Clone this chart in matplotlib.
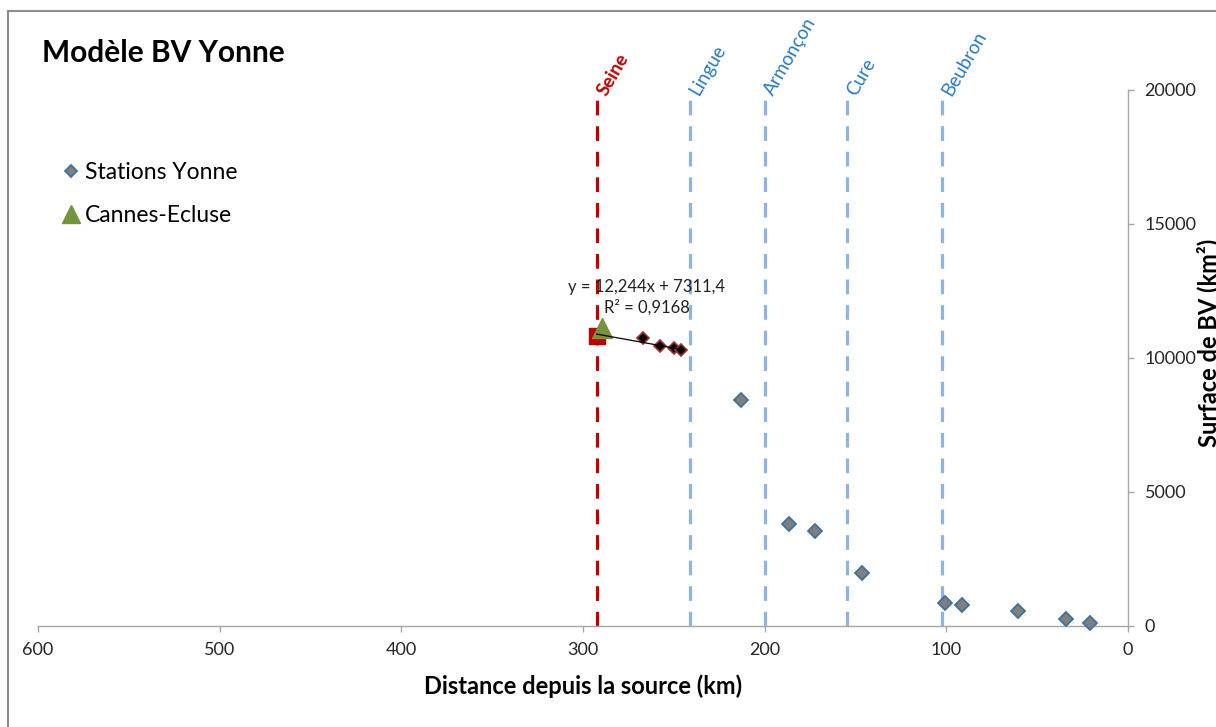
import matplotlib
matplotlib.use("Agg")
import matplotlib.pyplot as plt
from matplotlib.lines import Line2D
import numpy as np

plt.rcParams["font.family"] = ["Lato", "DejaVu Sans"]

###################
# Data            #
###################
# Stations Yonne (distance from source [km], basin area [km2])
stations_dist = [213.2, 186.4, 172.1, 146.6, 100.7, 91.5, 60.4, 34.3, 20.9]
stations_area = [8420, 3810, 3550, 1980, 845, 780, 558, 260, 122]

# Stations used for the linear trend (downstream reach)
trend_dist = [267.1, 257.6, 249.7, 246.0]
trend_area = [10735, 10459, 10384, 10287]

# Confluence with the Seine (red square) and Cannes-Ecluse (triangle)
seine_pt_dist = [292.4]
seine_pt_area = [10821]
cannes_dist = [289.7]
cannes_area = [11119]

# Trend line coefficients (as given by the label)
slope, intercept = 12.244, 7311.4
trend_label = ["y = 12,244x + 7311,4", "R² = 0,9168"]

# Tributaries / confluences
rivers = ["Seine", "Lingue", "Armonçon", "Cure", "Beubron"]
rivers_dist = [292.3, 241.1, 200.0, 154.8, 102.2]

x_ticks = [600, 500, 400, 300, 200, 100, 0]
y_ticks = [0, 5000, 10000, 15000, 20000]

###################
# Figure          #
###################
W, H = 1216, 727
fig = plt.figure(figsize=(W / 100, H / 100), dpi=100)
ax = fig.add_axes([38 / W, 1 - 626 / H, (1128 - 38) / W, (626 - 90) / H])

# outer chart border (cropped on right/bottom)
fig.add_artist(Line2D([8 / W, 8 / W], [0, 1 - 11 / H], transform=fig.transFigure, color="#8c8c8c", lw=1.5))
fig.add_artist(Line2D([8 / W, 1], [1 - 11 / H, 1 - 11 / H], transform=fig.transFigure, color="#8c8c8c", lw=1.5))

# vertical dashed lines for confluences
for name, d in zip(rivers, rivers_dist):
    if name == "Seine":
        col_line, col_txt, weight = "#C00000", "#C00000", "bold"
    else:
        col_line, col_txt, weight = "#8DB4E2", "#2A7AC4", "normal"
    ax.plot([d, d], [0, 20000], color=col_line, lw=2.3, dashes=(4.6, 3.4), zorder=1, clip_on=False)
    ax.text(d - 5, 19750, name, rotation=60, rotation_mode="anchor", ha="left", va="baseline",
            color=col_txt, fontsize=13.5, fontweight=weight, clip_on=False)

# markers
ax.plot(stations_dist, stations_area, ls="none", marker="D", ms=7, mfc="#7F7F7F", mec="#41719C",
        mew=1.3, zorder=4, clip_on=False, label="Stations Yonne")
ax.plot(seine_pt_dist, seine_pt_area, ls="none", marker="s", ms=12, mfc="#C00000", mec="#C00000", zorder=3)
ax.plot(trend_dist, trend_area, ls="none", marker="D", ms=6.3, mfc="black", mec="#A03030", mew=1.2, zorder=4)
xs = np.array([seine_pt_dist[0], trend_dist[-1]])
ax.plot(xs, slope * xs + intercept, color="black", lw=0.9, zorder=6)
ax.plot(cannes_dist, cannes_area, ls="none", marker="^", ms=15, mfc="#77933C", mec="#77933C",
        zorder=5, label="Cannes-Ecluse")

ax.text(265, 12650, trend_label[0], ha="center", va="center", fontsize=12, color="#222222")
ax.text(265, 11870, trend_label[1], ha="center", va="center", fontsize=12, color="#222222")

# axes
ax.set_xlim(600, 0)
ax.set_ylim(0, 20000)
ax.set_xticks(x_ticks)
ax.set_yticks(y_ticks)
ax.yaxis.tick_right()
for s in ["top", "left"]:
    ax.spines[s].set_visible(False)
for s in ["bottom", "right"]:
    ax.spines[s].set_color("#a6a6a6")
    ax.spines[s].set_linewidth(1.0)
ax.tick_params(axis="both", colors="#a6a6a6", length=4, width=1.0, labelsize=13, labelcolor="#262626")
ax.tick_params(axis="y", pad=8)
ax.tick_params(axis="x", pad=7.5)

ax.set_xlabel("Distance depuis la source (km)", fontsize=17, fontweight="bold", labelpad=12)
fig.text(1196 / W, 1 - 343 / H, "Surface de BV (km²)", rotation=90, ha="left", va="center",
         fontsize=17, fontweight="bold")

fig.text(42 / W, 1 - 62 / H, "Modèle BV Yonne", fontsize=21.5, fontweight="bold", va="baseline")

ax.legend(loc="upper left", bbox_to_anchor=(62 / W, 1 - 162 / H), bbox_transform=fig.transFigure,
          frameon=False, fontsize=16.5, handlelength=0.8, handletextpad=0.2, labelspacing=0.95,
          borderpad=0, borderaxespad=0, markerscale=0.85)

fig.savefig("out.png", dpi=100)
